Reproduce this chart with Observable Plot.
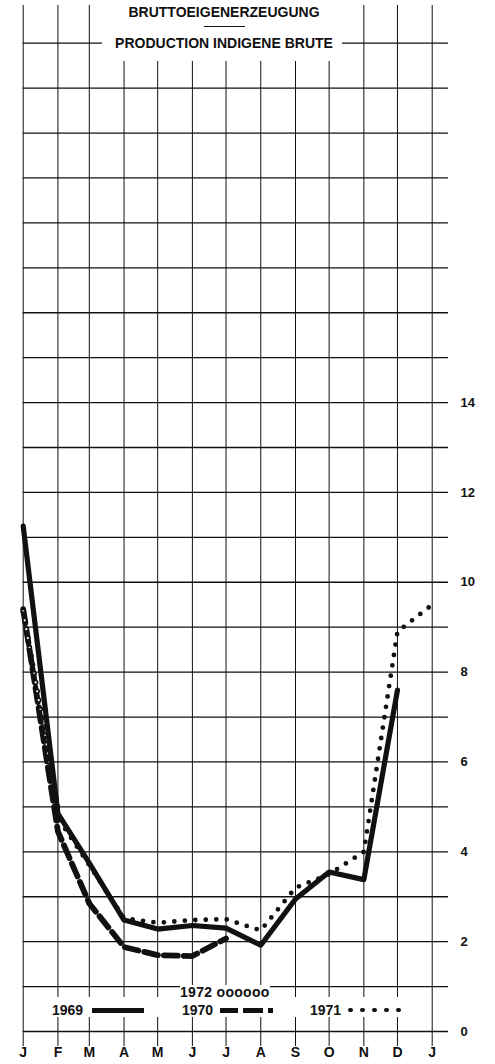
<!DOCTYPE html>
<html>
<head>
<meta charset="utf-8">
<script src="https://cdn.jsdelivr.net/npm/d3@7"></script>
<script src="https://cdn.jsdelivr.net/npm/@observablehq/plot@0.6"></script>
<style>
  body { margin: 0; background: #fff; }
  #wrap { position: relative; width: 495px; height: 1064px; font-family: "Liberation Sans", Arial, sans-serif; color: #111; }
  #wrap svg { display: block; }
  .ov { position: absolute; background: #fff; }
  .t { position: absolute; font-weight: bold; font-size: 14px; line-height: 14px; white-space: nowrap; }
  .blk { position: absolute; background: #111; }
  .dot { position: absolute; background: #111; border-radius: 50%; width: 4.6px; height: 4.6px; }
</style>
</head>
<body>
<div id="wrap"></div>
<script>
// Month axis (day of year at the start of each month)
const monthLabels = ["J","F","M","A","M","J","J","A","S","O","N","D","J"];
const monthDays   = [0, 31, 59, 90, 120, 151, 181, 212, 243, 273, 304, 334, 365];
const yTickLabels = [0, 2, 4, 6, 8, 10, 12, 14];
const gridValues  = d3.range(0, 23);

// Series values (one value per month start)
const v1969 = [11.25, 4.85, 3.75, 2.48, 2.28, 2.36, 2.3, 1.92, 2.95, 3.55, 3.38, 7.6];
const v1970 = [9.4, 4.45, 2.85, 1.88, 1.7, 1.68, 2.07];
const v1971 = [9.3, 4.75, 3.7, 2.52, 2.42, 2.48, 2.5, 2.25, 3.2, 3.5, 4.0, 8.9, 9.5];
const v1972 = [9.35, 4.95];

const rows = (vals) => vals.map((v, i) => ({day: monthDays[i], value: v}));
const r1969 = rows(v1969), r1970 = rows(v1970), r1971 = rows(v1971), r1972 = rows(v1972);

const ink = "#111";

const chart = Plot.plot({
  width: 495,
  height: 1064,
  marginTop: 5,
  marginBottom: 18,
  marginLeft: 22.7,
  marginRight: 47,
  x: {domain: [0, 365], range: [22.7, 431.7], axis: null, label: null},
  y: {domain: [0, 22], range: [1031, 42.7], axis: null, label: null},
  style: {fontFamily: "'Liberation Sans', Arial, sans-serif", fontWeight: "bold", color: ink, background: "#fff", overflow: "visible"},
  marks: [
    Plot.ruleX(monthDays, {stroke: ink, strokeWidth: 1}),
    Plot.ruleY(gridValues, {stroke: ink, strokeWidth: 1.3}),
    Plot.line(r1970, {x: "day", y: "value", stroke: ink, strokeWidth: 5.8, strokeDasharray: "14 6"}),
    Plot.line(r1972, {x: "day", y: "value", stroke: ink, strokeWidth: 5.5, strokeDasharray: "0 9", strokeLinecap: "round"}),
    Plot.line(r1972, {x: "day", y: "value", stroke: "#fff", strokeWidth: 2.2, strokeDasharray: "0 9", strokeLinecap: "round"}),
    Plot.line(r1969, {x: "day", y: "value", stroke: ink, strokeWidth: 5.2}),
    Plot.line(r1971, {x: "day", y: "value", stroke: ink, strokeWidth: 4.8, strokeDasharray: "0 10.5", strokeLinecap: "round"}),
    Plot.axisX(monthDays, {anchor: "bottom", tickSize: 0, tickPadding: 1, fontSize: 14, label: null,
      tickFormat: d => monthLabels[monthDays.indexOf(d)]}),
    Plot.axisY(yTickLabels, {anchor: "right", tickSize: 0, tickPadding: 12, fontSize: 13, label: null})
  ]
});

const wrap = document.getElementById("wrap");
wrap.appendChild(chart);

function el(cls, css, text) {
  const d = document.createElement("div");
  d.className = cls;
  Object.assign(d.style, css);
  if (text) d.textContent = text;
  wrap.appendChild(d);
  return d;
}

// Title block (white area at the top of the grid)
el("ov", {left: "102px", top: "0px", width: "240px", height: "61px"});
el("t", {left: "104px", top: "5px", width: "240px", textAlign: "center"}, "BRUTTOEIGENERZEUGUNG");
el("blk", {left: "204px", top: "25.5px", width: "41px", height: "1px"});
el("t", {left: "104px", top: "36px", width: "240px", textAlign: "center"}, "PRODUCTION INDIGENE BRUTE");

// Legend band
el("ov", {left: "24px", top: "997px", width: "406px", height: "20px"});
el("t", {left: "180px", top: "985px", background: "#fff", letterSpacing: "0.3px"}, "1972 oooooo");
el("t", {left: "52px", top: "1003px"}, "1969");
el("blk", {left: "92px", top: "1007.5px", width: "52px", height: "5px"});
el("t", {left: "182px", top: "1003px"}, "1970");
el("blk", {left: "220px", top: "1007.5px", width: "18px", height: "5px"});
el("blk", {left: "243px", top: "1007.5px", width: "20px", height: "5px"});
el("blk", {left: "268px", top: "1007.5px", width: "5px", height: "5px"});
el("t", {left: "310px", top: "1003px"}, "1971");
[0, 1, 2, 3, 4].forEach(i => el("dot", {left: (348 + i * 12) + "px", top: "1007.7px"}));
</script>
</body>
</html>
